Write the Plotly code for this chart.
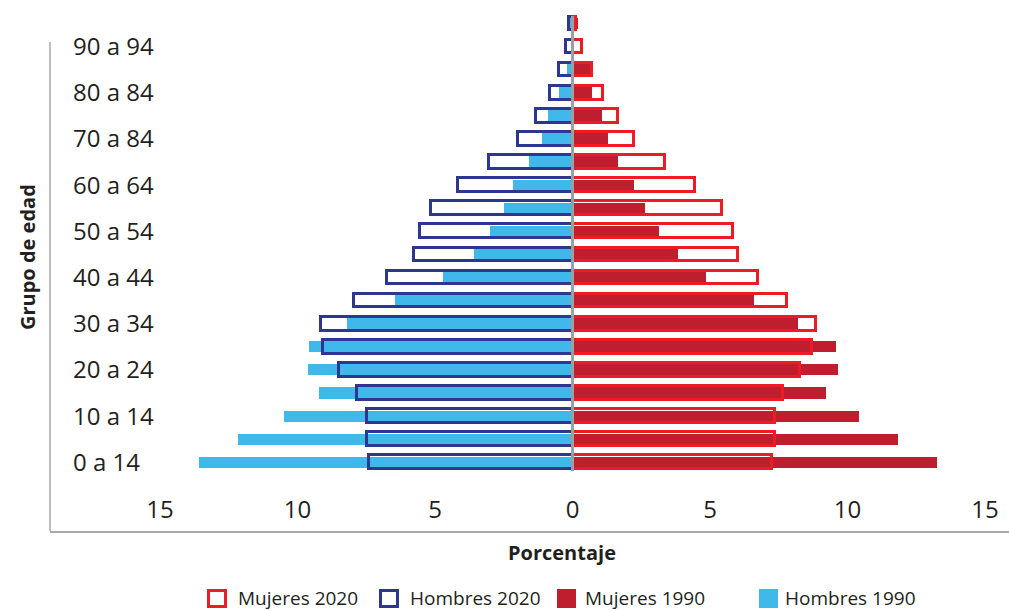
import plotly.graph_objects as go

# ---------------- data ----------------
age_groups = ["0 a 4", "5 a 9", "10 a 14", "15 a 19", "20 a 24", "25 a 29", "30 a 34",
              "35 a 39", "40 a 44", "45 a 49", "50 a 54", "55 a 59", "60 a 64", "65 a 69",
              "70 a 74", "75 a 79", "80 a 84", "85 a 89", "90 a 94", "95 y más"]
tick_groups = age_groups[0::2]
tick_labels = ["0 a 14", "10 a 14", "20 a 24", "30 a 34", "40 a 44", "50 a 54",
               "60 a 64", "70 a 84", "80 a 84", "90 a 94"]

hombres_1990 = [13.6, 12.16, 10.49, 9.22, 9.62, 9.58, 8.21, 6.45, 4.71, 3.58,
                3.0, 2.49, 2.16, 1.58, 1.11, 0.9, 0.49, 0.2, 0.04, 0.12]
hombres_2020 = [7.4, 7.48, 7.49, 7.84, 8.51, 9.07, 9.16, 7.96, 6.73, 5.78,
                5.55, 5.15, 4.18, 3.02, 2.0, 1.33, 0.83, 0.51, 0.25, 0.13]
mujeres_1990 = [13.25, 11.84, 10.42, 9.22, 9.65, 9.58, 8.2, 6.6, 4.85, 3.84,
                3.15, 2.64, 2.24, 1.64, 1.29, 1.08, 0.71, 0.66, 0.04, 0.2]
mujeres_2020 = [7.25, 7.35, 7.35, 7.67, 8.27, 8.7, 8.85, 7.81, 6.74, 6.02,
                5.85, 5.45, 4.44, 3.35, 2.25, 1.64, 1.09, 0.70, 0.34, 0.12]

x_ticks = [-15, -10, -5, 0, 5, 10, 15]
x_tick_labels = ["15", "10", "5", "0", "5", "10", "15"]

legend_names = ["Mujeres 2020", "Hombres 2020", "Mujeres 1990", "Hombres 1990"]

# ---------------- styles ----------------
C_M1990 = "#be1e2d"
C_M2020 = "#ed1c24"
C_H1990 = "#41b8ea"
C_H2020 = "#2e3790"
C_AXIS = "#a7a9ac"
C_CENTER = "#9d9fa2"
FONT = "Open Sans"
TXT = "#231f20"

W, H = 1009, 610
ML, MR, MT, MB = 50, 0, 10, 79
PW, PH = W - ML - MR, H - MT - MB


def px_x(x):
    return (x - ML) / PW


def px_y(y):
    return (H - MB - y) / PH


fig = go.Figure()

fig.add_trace(go.Bar(y=age_groups, x=[-v for v in hombres_1990], orientation="h",
                     width=0.48, marker=dict(color=C_H1990, line=dict(width=0)),
                     name="Hombres 1990", showlegend=False,
                     customdata=hombres_1990, hovertemplate="%{y}: %{customdata}%<extra>Hombres 1990</extra>"))
fig.add_trace(go.Bar(y=age_groups, x=mujeres_1990, orientation="h",
                     width=0.48, marker=dict(color=C_M1990, line=dict(width=0)),
                     name="Mujeres 1990", showlegend=False))
fig.add_trace(go.Bar(y=age_groups, x=[-v for v in hombres_2020], orientation="h",
                     width=0.59, marker=dict(color="rgba(0,0,0,0)", line=dict(color=C_H2020, width=3)),
                     name="Hombres 2020", showlegend=False,
                     customdata=hombres_2020, hovertemplate="%{y}: %{customdata}%<extra>Hombres 2020</extra>"))
fig.add_trace(go.Bar(y=age_groups, x=mujeres_2020, orientation="h",
                     width=0.59, marker=dict(color="rgba(0,0,0,0)", line=dict(color=C_M2020, width=3)),
                     name="Mujeres 2020", showlegend=False))

shapes = []
# centre line
shapes.append(dict(type="line", xref="x", yref="y", x0=0, x1=0, y0=-0.38, y1=19.32,
                   line=dict(color=C_CENTER, width=3), layer="above"))
# left axis line
shapes.append(dict(type="line", xref="paper", yref="paper", x0=0, x1=0,
                   y0=px_y(531), y1=px_y(42), line=dict(color=C_AXIS, width=1.5)))

# manual legend
legend_items = [
    (legend_names[0], 208.5, 236, "outline", C_M2020),
    (legend_names[1], 380.5, 408, "outline", C_H2020),
    (legend_names[2], 557, 583, "fill", C_M1990),
    (legend_names[3], 759, 783, "fill", C_H1990),
]
annotations = []
for name, sx, tx, kind, col in legend_items:
    if kind == "outline":
        shapes.append(dict(type="rect", xref="paper", yref="paper",
                           x0=px_x(sx), x1=px_x(sx + 17), y0=px_y(590.5), y1=px_y(606.5),
                           line=dict(color=col, width=3), fillcolor="rgba(0,0,0,0)"))
    else:
        shapes.append(dict(type="rect", xref="paper", yref="paper",
                           x0=px_x(sx), x1=px_x(sx + 19), y0=px_y(589), y1=px_y(608),
                           line=dict(width=0), fillcolor=col))
    annotations.append(dict(text=name, xref="paper", yref="paper", x=px_x(tx), y=px_y(598),
                            xanchor="left", yanchor="middle", showarrow=False,
                            font=dict(family=FONT, size=19, color=TXT)))

annotations.append(dict(text="<b>Porcentaje</b>", xref="paper", yref="paper",
                        x=px_x(562), y=px_y(552), xanchor="center", yanchor="middle",
                        showarrow=False, font=dict(family=FONT, size=20, color=TXT)))
annotations.append(dict(text="<b>Grupo de edad</b>", xref="paper", yref="paper",
                        x=px_x(27), y=px_y(257), xanchor="center", yanchor="middle",
                        textangle=-90, showarrow=False,
                        font=dict(family=FONT, size=20, color=TXT)))

fig.update_layout(
    width=W, height=H,
    margin=dict(l=ML, r=MR, t=MT, b=MB, pad=0),
    barmode="overlay",
    bargap=0,
    paper_bgcolor="white", plot_bgcolor="white",
    font=dict(family=FONT, color=TXT),
    shapes=shapes, annotations=annotations,
    showlegend=False,
    xaxis=dict(range=[-19.0, 15.87], tickvals=x_ticks, ticktext=x_tick_labels,
               ticklabelposition="inside", ticks="", showgrid=False, zeroline=False,
               showline=True, linecolor=C_AXIS, linewidth=1.5,
               tickfont=dict(family=FONT, size=24, color=TXT), ticklabelstandoff=10),
    yaxis=dict(type="category", categoryorder="array", categoryarray=age_groups,
               range=[-2.974, 19.58], tickvals=tick_groups, ticktext=tick_labels,
               ticklabelposition="inside", ticks="", showgrid=False, zeroline=False,
               showline=False, tickfont=dict(family=FONT, size=24, color=TXT),
               ticklabelstandoff=20),
)

fig.write_html("out.html", config={"displayModeBar": False},
               post_script="document.body.style.margin='0px';document.body.style.overflow='hidden';")
